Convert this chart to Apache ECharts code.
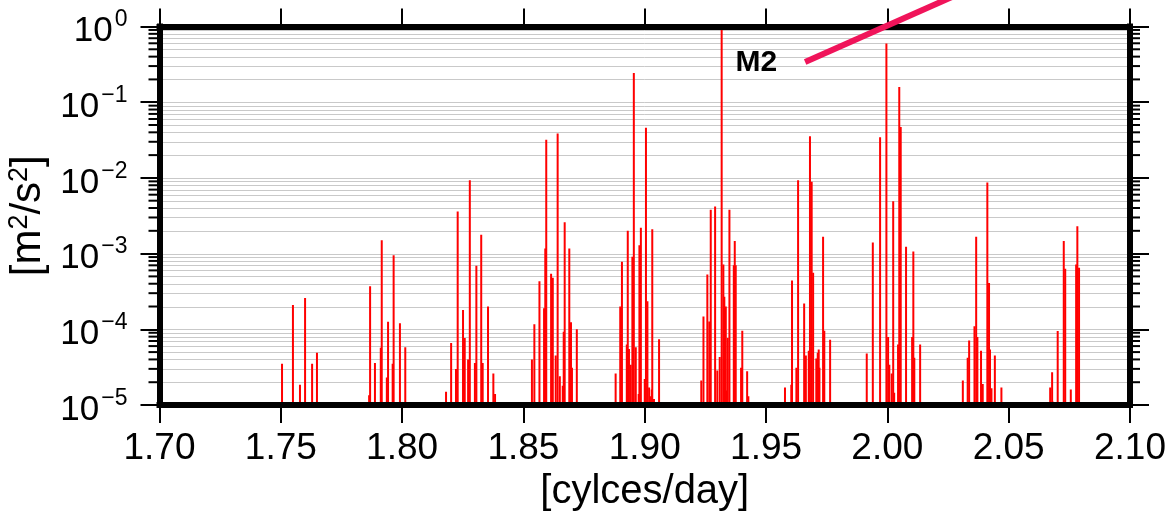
<!DOCTYPE html>
<html>
<head>
<meta charset="utf-8">
<script src="https://cdn.jsdelivr.net/npm/echarts@6/dist/echarts.min.js"></script>
<style>html,body{margin:0;padding:0;background:#fff}#c{width:1173px;height:511px}</style>
</head>
<body>
<div id="c"></div>
<script>
// ---- data ----
const xTicks = [1.70, 1.75, 1.80, 1.85, 1.90, 1.95, 2.00, 2.05, 2.10];
const yTickExponents = [-5, -4, -3, -2, -1, 0];
const X_MIN = 1.70, X_MAX = 2.10, Y_MIN = 1e-5, Y_MAX = 1;

const freq = [
  1.7505, 1.7550, 1.7579, 1.7600, 1.7629, 1.7649,
  1.7864, 1.7868, 1.7888, 1.7912, 1.7916, 1.7937, 1.7942, 1.7961, 1.7965, 1.7991, 1.8013,
  1.8181, 1.8202, 1.8222, 1.8229, 1.8251, 1.8258, 1.8272, 1.8279, 1.8300, 1.8306, 1.8326, 1.8332, 1.8354, 1.8376, 1.8383,
  1.8535, 1.8545, 1.8566, 1.8585, 1.8590, 1.8594, 1.8614, 1.8621, 1.8633, 1.8641, 1.8650, 1.8662, 1.8666, 1.8670, 1.8689, 1.8696, 1.8700, 1.8720,
  1.8880, 1.8899, 1.8906, 1.8926, 1.8930, 1.8935, 1.8942, 1.8949, 1.8955, 1.8963, 1.8975, 1.8978, 1.8984, 1.9000, 1.9005, 1.9011, 1.9018, 1.9023, 1.9029, 1.9031, 1.9038, 1.9059,
  1.9233, 1.9242, 1.9258, 1.9266, 1.9272, 1.9290, 1.9299, 1.9309, 1.9317, 1.9324, 1.9328, 1.9334, 1.9338, 1.9342, 1.9349, 1.9367, 1.9371, 1.9375, 1.9397, 1.9402, 1.9422, 1.9427,
  1.9578, 1.9604, 1.9607, 1.9625, 1.9632, 1.9657, 1.9664, 1.9676, 1.9681, 1.9688, 1.9694, 1.9707, 1.9713, 1.9717, 1.9720, 1.9735, 1.9740, 1.9764,
  1.9915, 1.9940, 1.9970, 1.9996, 2.0003, 2.0008, 2.0018, 2.0024, 2.0028, 2.0044, 2.0049, 2.0055, 2.0077, 2.0102, 2.0107, 2.0111, 2.0135,
  2.0311, 2.0331, 2.0337, 2.0359, 2.0366, 2.0371, 2.0386, 2.0393, 2.0412, 2.0419, 2.0423, 2.0429, 2.0443, 2.0470,
  2.0671, 2.0679, 2.0683, 2.0702, 2.0727, 2.0733, 2.0756, 2.0778, 2.0783, 2.0790
];
const power = [
  3.5e-5, 2.1e-4, 1.85e-5, 2.6e-4, 3.5e-5, 4.9e-5,
  1.35e-5, 3.7e-4, 3.6e-5, 5.7e-5, 1.5e-3, 2.3e-5, 1.26e-4, 3.5e-5, 9.5e-4, 1.2e-4, 5.8e-5,
  1.5e-5, 6.6e-5, 3.0e-5, 3.6e-3, 1.8e-4, 7.7e-5, 4.0e-5, 9.3e-3, 3.6e-5, 6.9e-4, 1.78e-3, 3.6e-5, 2.0e-4, 2.6e-5, 1.4e-5,
  4.0e-5, 1.17e-4, 4.3e-4, 1.9e-4, 1.17e-3, 3.2e-2, 5.4e-4, 4.8e-4, 4.5e-5, 3.85e-2, 2.4e-5, 1.8e-5, 9.3e-5, 2.6e-3, 1.17e-3, 1.24e-4, 3.1e-5, 1.0e-4,
  2.6e-5, 2.0e-4, 7.8e-4, 6.3e-5, 2.0e-3, 5.5e-5, 3.4e-5, 9.1e-4, 0.243, 5.8e-5, 1.4e-5, 1.29e-3, 2.2e-3, 2.2e-5, 4.6e-2, 2.35e-4, 1.7e-5, 1.3e-5, 1.6e-5, 2.1e-3, 1.2e-5, 7.4e-5,
  2.1e-5, 1.48e-4, 5.3e-4, 1.27e-4, 3.8e-3, 4.2e-3, 2.85e-5, 4.3e-5, 0.98, 7.2e-4, 2.7e-4, 2.0e-4, 1.55e-5, 7.7e-5, 3.8e-3, 7.0e-4, 1.47e-3, 7.0e-4, 3.1e-5, 9.6e-5, 2.8e-5, 1.3e-5,
  1.7e-5, 1.85e-5, 4.4e-4, 3.1e-5, 9.3e-3, 2.2e-4, 4.5e-5, 5.2e-5, 3.55e-2, 8.9e-3, 5.6e-4, 4.1e-5, 4.9e-5, 5.4e-5, 3.1e-5, 1.67e-3, 9.6e-5, 7.3e-5,
  4.8e-5, 1.4e-3, 3.45e-2, 0.596, 7.9e-5, 3.4e-5, 2.6e-5, 4.9e-3, 1.45e-5, 6.3e-5, 0.159, 4.7e-2, 1.23e-3, 7.9e-5, 1.07e-3, 4.2e-5, 6.3e-5,
  2.1e-5, 4.2e-5, 7.1e-5, 1.1e-4, 1.67e-3, 7.9e-5, 5.2e-5, 1.9e-5, 8.7e-3, 4.1e-4, 5.4e-5, 1.66e-5, 4.5e-5, 1.7e-5,
  1.7e-5, 2.7e-5, 1.1e-5, 9.5e-5, 1.47e-3, 6.3e-4, 1.6e-5, 7.2e-4, 2.3e-3, 6.5e-4
];
// M2 annotation: label and pointer line (start, end) in data units
const annotLabel = 'M2';
const annotLine = [1.9661, 0.34, 2.0465, 4.7];

const xName = '[cylces/day]';
// ---- end data ----

const FONT = '"Liberation Sans", Arial, Helvetica, sans-serif';
const minorValues = [];
const allGridValues = [];
yTickExponents.forEach(e => {
  allGridValues.push(Math.pow(10, e));
  if (e < 0) for (let m = 2; m <= 9; m++) { minorValues.push(m * Math.pow(10, e)); allGridValues.push(m * Math.pow(10, e)); }
});

const chart = echarts.init(document.getElementById('c'), null, {renderer: 'canvas'});
const axisLineStyle = {color: '#000', width: 6, cap: 'square'};

chart.setOption({
  animation: false,
  backgroundColor: '#fff',
  grid: {left: 159.5, right: 43, top: 26.5, bottom: 106, containLabel: false, outerBoundsMode: 'none'},
  xAxis: [{
    type: 'value', min: X_MIN, max: X_MAX, interval: 0.05, position: 'bottom', z: 5,
    name: xName, nameLocation: 'middle', nameGap: 63,
    nameTextStyle: {fontFamily: FONT, fontSize: 40, color: '#000'},
    axisLine: {show: true, onZero: false, lineStyle: axisLineStyle},
    axisTick: {show: true, length: 18, lineStyle: {color: '#000', width: 2}},
    axisLabel: {fontFamily: FONT, fontSize: 37, color: '#000', margin: 25, formatter: v => v.toFixed(2)},
    splitLine: {show: false}
  }, {
    type: 'value', min: X_MIN, max: X_MAX, interval: 0.05, position: 'top', z: 5,
    axisLine: {show: true, onZero: false, lineStyle: axisLineStyle},
    axisTick: {show: true, length: 18, lineStyle: {color: '#000', width: 2}},
    axisLabel: {show: false}, splitLine: {show: false}
  }],
  yAxis: [{
    type: 'log', logBase: 10, min: Y_MIN, max: Y_MAX, position: 'left', z: 5,
    name: '{a|[m}{s|2}{a|/s}{s|2}{a|]}', nameLocation: 'middle', nameGap: 100, nameRotate: 90,
    nameTextStyle: {
      rich: {
        a: {fontFamily: FONT, fontSize: 42, color: '#000', lineHeight: 44},
        s: {fontFamily: FONT, fontSize: 27, color: '#000', verticalAlign: 'top', lineHeight: 30}
      }
    },
    axisLine: {show: true, onZero: false, lineStyle: axisLineStyle},
    axisTick: {show: true, length: 19, lineStyle: {color: '#000', width: 2}},
    axisLabel: {
      margin: 32,
      formatter: v => { const e = Math.round(Math.log10(v)); return '{b|10}{s|' + (e < 0 ? '\u2212' + (-e) : e) + '}'; },
      rich: {
        b: {fontFamily: FONT, fontSize: 35, color: '#000', lineHeight: 36, padding: [10, 0, 0, 0]},
        s: {fontFamily: FONT, fontSize: 23, color: '#000', verticalAlign: 'top', lineHeight: 24, padding: [0, 0, 0, 2]}
      }
    },
    splitLine: {show: false}
  }, {
    type: 'log', logBase: 10, min: Y_MIN, max: Y_MAX, position: 'right', z: 5,
    axisLine: {show: true, onZero: false, lineStyle: axisLineStyle},
    axisTick: {show: true, length: 19, lineStyle: {color: '#000', width: 2}},
    axisLabel: {show: false}, splitLine: {show: false}
  }],
  series: [{
    // horizontal grid lines (major + minor decades)
    type: 'custom', z: 1, silent: true,
    data: allGridValues.map(v => [X_MIN, v]),
    renderItem: (params, api) => {
      const a = api.coord([X_MIN, api.value(1)]);
      const b = api.coord([X_MAX, api.value(1)]);
      return {type: 'line', shape: {x1: a[0], y1: Math.round(a[1]) + 0.5, x2: b[0], y2: Math.round(b[1]) + 0.5},
        style: {stroke: '#c9c9c9', lineWidth: 1}};
    }
  }, {
    // minor ticks on left and right axes (log 2..9)
    type: 'custom', z: 6, silent: true, clip: false,
    data: minorValues.map(v => [X_MIN, v]),
    renderItem: (params, api) => {
      const a = api.coord([X_MIN, api.value(1)]);
      const b = api.coord([X_MAX, api.value(1)]);
      return {type: 'group', children: [
        {type: 'line', shape: {x1: a[0] - 11, y1: a[1], x2: a[0], y2: a[1]}, style: {stroke: '#000', lineWidth: 2}},
        {type: 'line', shape: {x1: b[0], y1: b[1], x2: b[0] + 10, y2: b[1]}, style: {stroke: '#000', lineWidth: 2}}
      ]};
    }
  }, {
    // spectral lines
    type: 'custom', z: 2, clip: true,
    data: freq.map((f, i) => [f, power[i]]),
    renderItem: (params, api) => {
      const top = api.coord([api.value(0), api.value(1)]);
      const base = api.coord([api.value(0), Y_MIN]);
      return {type: 'rect', shape: {x: top[0] - 1, y: top[1], width: 2, height: base[1] - top[1]},
        style: {fill: '#ff0000'}};
    }
  }, {
    // M2 annotation
    type: 'custom', z: 10, silent: true, clip: false,
    data: [annotLine],
    renderItem: (params, api) => {
      const p1 = api.coord([api.value(0), api.value(1)]);
      const p2 = api.coord([api.value(2), api.value(3)]);
      return {type: 'group', children: [
        {type: 'line', shape: {x1: p1[0], y1: p1[1], x2: p2[0], y2: p2[1]},
          style: {stroke: '#f0145a', lineWidth: 6}},
        {type: 'text', style: {text: annotLabel, x: p1[0] - 28, y: p1[1] + 1, align: 'right', verticalAlign: 'middle',
          font: 'bold 30px ' + FONT, fill: '#000'}}
      ]};
    }
  }]
});
</script>
</body>
</html>
